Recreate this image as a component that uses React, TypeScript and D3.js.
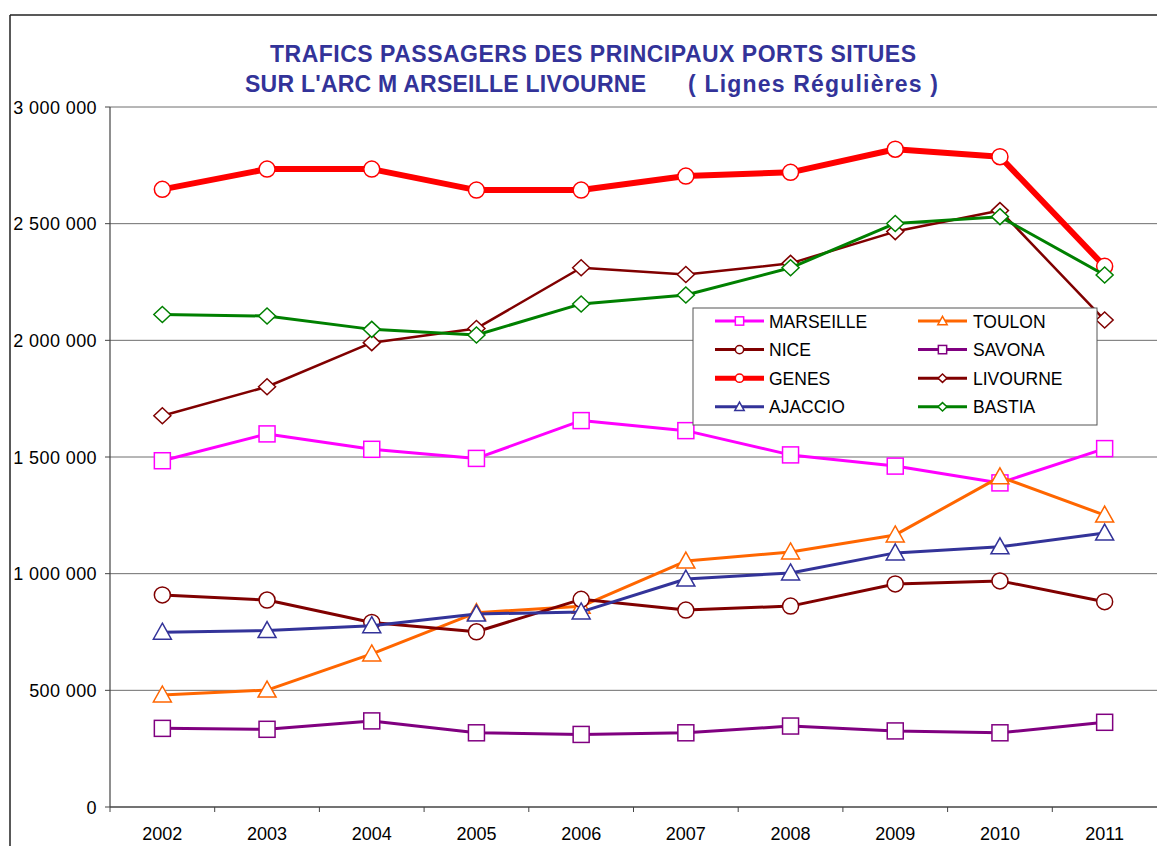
import React from "react";
import * as d3 from "d3";

const years = ["2002", "2003", "2004", "2005", "2006", "2007", "2008", "2009", "2010", "2011"];
const yTicks = [0, 500000, 1000000, 1500000, 2000000, 2500000, 3000000];

const marseille = [1484000, 1599000, 1533000, 1494000, 1656000, 1613000, 1509000, 1461000, 1389000, 1536000];
const toulon = [480000, 501000, 656000, 833000, 860000, 1054000, 1093000, 1166000, 1415000, 1251000];
const nice = [909000, 887000, 791000, 751000, 890000, 844000, 861000, 956000, 969000, 880000];
const savona = [337000, 333000, 369000, 318000, 311000, 318000, 347000, 326000, 318000, 363000];
const genes = [2647000, 2734000, 2734000, 2644000, 2644000, 2704000, 2720000, 2819000, 2787000, 2317000];
const livourne = [1677000, 1801000, 1990000, 2051000, 2311000, 2282000, 2330000, 2466000, 2556000, 2087000];
const ajaccio = [749000, 756000, 777000, 827000, 836000, 977000, 1003000, 1089000, 1115000, 1174000];
const bastia = [2111000, 2104000, 2047000, 2023000, 2156000, 2194000, 2311000, 2501000, 2530000, 2280000];

type Shape = "square" | "circle" | "triangle" | "diamond";
interface Series { name: string; values: number[]; color: string; shape: Shape; width: number; }

const series: Series[] = [
  { name: "MARSEILLE", values: marseille, color: "#FF00FF", shape: "square", width: 3 },
  { name: "TOULON", values: toulon, color: "#FF6600", shape: "triangle", width: 3 },
  { name: "NICE", values: nice, color: "#800000", shape: "circle", width: 3 },
  { name: "SAVONA", values: savona, color: "#800080", shape: "square", width: 3 },
  { name: "GENES", values: genes, color: "#FF0000", shape: "circle", width: 6 },
  { name: "LIVOURNE", values: livourne, color: "#800000", shape: "diamond", width: 2.5 },
  { name: "AJACCIO", values: ajaccio, color: "#333399", shape: "triangle", width: 3 },
  { name: "BASTIA", values: bastia, color: "#008000", shape: "diamond", width: 3 },
];

const fmt = d3.formatLocale({ decimal: ",", thousands: " ", grouping: [3], currency: ["", "€"] }).format(",");

function Marker({ shape, x, y, color, s }: { shape: Shape; x: number; y: number; color: string; s: number }) {
  const common = { fill: "#fff", stroke: color, strokeWidth: 1.5 };
  if (shape === "square") return <rect x={x - 8 * s} y={y - 8 * s} width={16 * s} height={16 * s} {...common} />;
  if (shape === "circle") return <circle cx={x} cy={y} r={8 * s} {...common} />;
  if (shape === "triangle")
    return <polygon points={`${x},${y - 9 * s} ${x + 9 * s},${y + 7 * s} ${x - 9 * s},${y + 7 * s}`} {...common} />;
  return <polygon points={`${x},${y - 8 * s} ${x + 8.5 * s},${y} ${x},${y + 8 * s} ${x - 8.5 * s},${y}`} {...common} />;
}

export default function App() {
  const left = 110, right = 1157, top = 107, bottom = 807;
  const x = d3.scaleBand().domain(years).range([left, right]);
  const bw = x.bandwidth();
  const cx = (yr: string) => (x(yr) as number) + bw / 2;
  const y = d3.scaleLinear().domain([0, 3000000]).range([bottom, top]);
  const line = d3.line<number>().x((_, i) => cx(years[i])).y((v) => y(v));

  const legendRows = [0, 1, 2, 3];
  const font = "'Liberation Sans', Arial, sans-serif";

  return (
    <svg width={1157} height={846} style={{ position: "absolute", left: 0, top: 0, background: "#fff" }} fontFamily={font}>
      <rect x={0} y={0} width={1157} height={846} fill="#fff" />
      {/* chart frame */}
      <line x1={10} y1={15} x2={1157} y2={15} stroke="#222" strokeWidth={1.5} />
      <line x1={10} y1={15} x2={10} y2={846} stroke="#222" strokeWidth={1.5} />

      {/* title */}
      <text x={270} y={62} fontSize={23} fontWeight="bold" fill="#333399" textLength={646} lengthAdjust="spacing">
        TRAFICS PASSAGERS DES PRINCIPAUX PORTS SITUES
      </text>
      <text x={245} y={92} fontSize={23} fontWeight="bold" fill="#333399" textLength={401} lengthAdjust="spacing">
        SUR L'ARC M ARSEILLE LIVOURNE
      </text>
      <text x={688} y={92} fontSize={23} fontWeight="bold" fill="#333399" textLength={250} lengthAdjust="spacing">
        ( Lignes Régulières )
      </text>

      {/* gridlines */}
      {yTicks.filter((t) => t > 0).map((t) => (
        <line key={t} x1={left} x2={right} y1={y(t)} y2={y(t)} stroke="#6e6e6e" strokeWidth={1} />
      ))}
      {/* y axis */}
      <line x1={left} x2={left} y1={top} y2={bottom} stroke="#444" strokeWidth={1.2} />
      {yTicks.map((t) => (
        <g key={"yt" + t}>
          <line x1={left - 5} x2={left} y1={y(t)} y2={y(t)} stroke="#444" />
          <text x={97} y={y(t) + 6.5} fontSize={18} textAnchor="end" fill="#000" letterSpacing={0.4}>
            {fmt(t)}
          </text>
        </g>
      ))}
      {/* x axis */}
      <line x1={left} x2={right} y1={bottom} y2={bottom} stroke="#444" strokeWidth={1.5} />
      {years.map((yr) => (
        <line key={"xt" + yr} x1={x(yr)} x2={x(yr)} y1={bottom} y2={bottom + 5} stroke="#444" />
      ))}
      {years.map((yr) => (
        <text key={"xl" + yr} x={cx(yr)} y={840} fontSize={18} textAnchor="middle" fill="#000">
          {yr}
        </text>
      ))}

      {/* series */}
      {series.map((s) => (
        <g key={s.name}>
          <path d={line(s.values) || ""} fill="none" stroke={s.color} strokeWidth={s.width} strokeLinejoin="round" />
          {s.values.map((v, i) => (
            <Marker key={i} shape={s.shape} x={cx(years[i])} y={y(v)} color={s.color} s={1} />
          ))}
        </g>
      ))}

      {/* legend */}
      <rect x={693} y={308} width={404} height={117} fill="#fff" stroke="#555" strokeWidth={1} />
      {series.map((s, i) => {
        const col = i % 2;
        const row = legendRows[Math.floor(i / 2)];
        const ly = 321 + row * 28.6;
        const lx0 = col === 0 ? 715 : 918;
        const lx1 = lx0 + 49;
        const tx = col === 0 ? 769 : 973;
        return (
          <g key={"lg" + s.name}>
            <line x1={lx0} x2={lx1} y1={ly} y2={ly} stroke={s.color} strokeWidth={s.width === 6 ? 5 : 3} />
            <Marker shape={s.shape} x={(lx0 + lx1) / 2} y={ly} color={s.color} s={0.52} />
            <text x={tx} y={ly + 6.5} fontSize={17.5} fill="#000">
              {s.name}
            </text>
          </g>
        );
      })}
    </svg>
  );
}
